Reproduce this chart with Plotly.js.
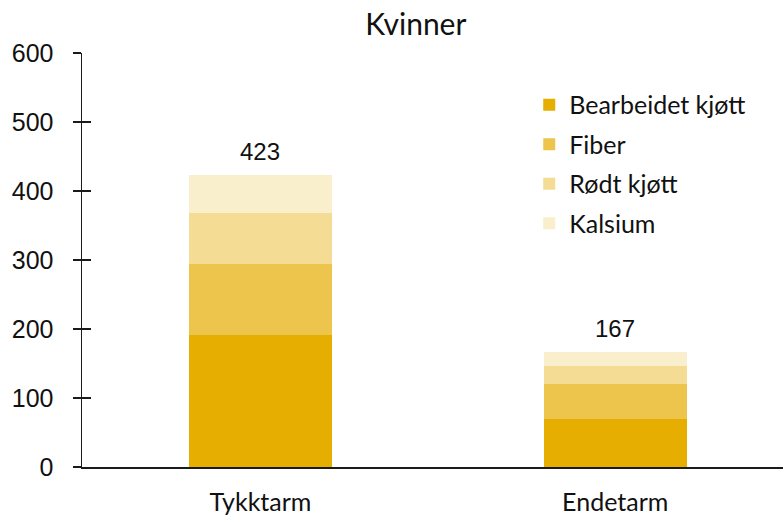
<!DOCTYPE html>
<html>
<head>
<meta charset="utf-8">
<script src="https://cdn.plot.ly/plotly-3.0.1.min.js"></script>
<style>html,body{margin:0;padding:0;background:#fff;} #chart{width:783px;height:520px;}</style>
</head>
<body>
<div id="chart"></div>
<script>
const categories = ["Tykktarm", "Endetarm"];
const seriesNames = ["Bearbeidet kjøtt", "Fiber", "Rødt kjøtt", "Kalsium"];
const bearbeidet = [191, 70];
const fiber = [103, 51];
const rodt = [74, 26];
const kalsium = [55, 20];
const totals = [423, 167];
const colors = ["#E6AE00", "#EDC44C", "#F4DC95", "#F9EFCC"];
const yTicks = [0, 100, 200, 300, 400, 500, 600];

const textFont = {family: "Lato, 'Noto Sans', sans-serif", size: 25, color: "#111"};
const numFont = {family: "'Liberation Sans', Arial, sans-serif", size: 24, color: "#111"};
const series = [bearbeidet, fiber, rodt, kalsium];
const traces = series.map((vals, i) => ({
  type: "bar",
  name: seriesNames[i],
  x: categories,
  y: vals,
  width: 0.403,
  marker: {color: colors[i]},
  legendgroup: "g" + i,
  hoverinfo: "none"
}));

const annotations = categories.map((c, i) => ({
  x: c, y: totals[i], xref: "x", yref: "y",
  text: String(totals[i]), showarrow: false,
  yanchor: "bottom", yshift: 8,
  font: numFont
}));

const layout = {
  width: 783, height: 520,
  margin: {l: 82, r: 0, t: 53, b: 53, autoexpand: false},
  paper_bgcolor: "#fff", plot_bgcolor: "#fff",
  barmode: "stack",
  bargap: 0,
  title: {text: "Kvinner", font: {family: "Lato, 'Noto Sans', sans-serif", size: 30, color: "#111"},
          x: 0.531, xanchor: "center", y: 0.952, yanchor: "middle", xref: "container", yref: "container"},
  showlegend: true,
  legend: {x: 0.638, y: 0.93, xanchor: "left", yanchor: "top", xref: "paper", yref: "paper",
           traceorder: "grouped", tracegroupgap: 4, font: textFont, bgcolor: "rgba(0,0,0,0)",
           itemwidth: 30},
  xaxis: {
    type: "category", range: [-0.503, 1.473],
    showline: true, linecolor: "#1a1a1a", linewidth: 2,
    ticks: "", showgrid: false, zeroline: false,
    tickfont: textFont, ticklabelstandoff: 12
  },
  yaxis: {
    range: [0, 600], tickvals: yTicks, ticktext: yTicks.map(String),
    showline: true, linecolor: "#1a1a1a", linewidth: 1.5,
    ticks: "outside", ticklen: 8, tickwidth: 1.5, tickcolor: "#1a1a1a",
    showgrid: false, zeroline: false,
    tickfont: {family: "'Liberation Sans', Arial, sans-serif", size: 25, color: "#111"},
    ticklabelstandoff: 14
  },
  yaxis2: {
    overlaying: "y", range: [0, 600], tickvals: yTicks,
    showline: false, showticklabels: false,
    ticks: "inside", ticklen: 9, tickwidth: 1.5, tickcolor: "#1a1a1a",
    showgrid: false, zeroline: false
  },
  annotations: annotations
};

traces.push({type: "scatter", x: [], y: [], yaxis: "y2", showlegend: false, hoverinfo: "none"});

Plotly.newPlot("chart", traces, layout, {displayModeBar: false, staticPlot: true});
</script>
</body>
</html>
